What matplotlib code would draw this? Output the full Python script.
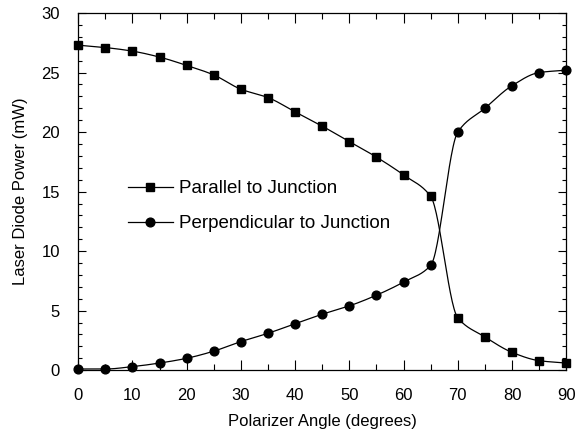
import numpy as np
import matplotlib
matplotlib.use("Agg")
import matplotlib.pyplot as plt
from matplotlib.lines import Line2D
from matplotlib.ticker import MultipleLocator

plt.rcParams['font.family'] = ['Liberation Sans', 'DejaVu Sans']

angle = [0, 5, 10, 15, 20, 25, 30, 35, 40, 45, 50, 55, 60, 65, 70, 75, 80, 85, 90]
parallel = [27.3, 27.1, 26.8, 26.3, 25.6, 24.8, 23.6, 22.9, 21.7, 20.5, 19.2,
            17.9, 16.4, 14.6, 4.4, 2.8, 1.5, 0.8, 0.6]
perpendicular = [0.1, 0.1, 0.3, 0.6, 1.0, 1.6, 2.4, 3.1, 3.9, 4.7, 5.4,
                 6.3, 7.4, 8.8, 20.0, 22.0, 23.9, 25.0, 25.2]


def pchip(x, y, n=30):
    # monotone cubic curve through the measured points (Fritsch-Carlson)
    x = np.asarray(x, float)
    y = np.asarray(y, float)
    h = np.diff(x)
    d = np.diff(y) / h
    m = np.zeros_like(y)
    m[0], m[-1] = d[0], d[-1]
    for i in range(1, len(x) - 1):
        if d[i - 1] * d[i] > 0:
            m[i] = 2.0 / (1.0 / d[i - 1] + 1.0 / d[i])
    xs, ys = [], []
    t = np.linspace(0, 1, n)
    for i in range(len(x) - 1):
        h00 = 2 * t ** 3 - 3 * t ** 2 + 1
        h10 = t ** 3 - 2 * t ** 2 + t
        h01 = -2 * t ** 3 + 3 * t ** 2
        h11 = t ** 3 - t ** 2
        xs.append(x[i] + t * h[i])
        ys.append(h00 * y[i] + h10 * h[i] * m[i] + h01 * y[i + 1] + h11 * h[i] * m[i + 1])
    return np.concatenate(xs), np.concatenate(ys)


fig = plt.figure(figsize=(5.79, 4.34), dpi=100)
ax = fig.add_axes([0.135, 0.147, 0.843, 0.823])

for vals, mk in ((parallel, 's'), (perpendicular, 'o')):
    sx, sy = pchip(angle, vals)
    ax.plot(sx, sy, color='black', lw=0.9, clip_on=False, zorder=2)
    ax.plot(angle, vals, linestyle='none', marker=mk, ms=6.3, color='black',
            clip_on=False, zorder=3)

ax.set_xlim(0, 90)
ax.set_ylim(0, 30)
ax.xaxis.set_major_locator(MultipleLocator(10))
ax.xaxis.set_minor_locator(MultipleLocator(5))
ax.yaxis.set_major_locator(MultipleLocator(5))
ax.yaxis.set_minor_locator(MultipleLocator(1))
ax.tick_params(which='both', direction='in', top=True, right=True,
               labelsize=12, width=0.8)
ax.tick_params(axis='x', which='major', length=7, pad=13)
ax.tick_params(axis='x', which='minor', length=4)
ax.tick_params(axis='y', which='major', length=6, pad=13)
ax.tick_params(axis='y', which='minor', length=3)
for s in ax.spines.values():
    s.set_linewidth(0.9)

ax.set_xlabel('Polarizer Angle (degrees)', fontsize=12, labelpad=8)
ax.set_ylabel('Laser Diode Power (mW)', fontsize=12, labelpad=10)

handles = [
    Line2D([], [], color='black', lw=0.9, marker='s', ms=6.3),
    Line2D([], [], color='black', lw=0.9, marker='o', ms=6.3),
]
ax.legend(handles, ['Parallel to Junction', 'Perpendicular to Junction'],
          loc='upper left', bbox_to_anchor=(0.102, 0.532), frameon=False,
          fontsize=13.5, handlelength=2.4, handletextpad=0.3,
          labelspacing=0.95, borderpad=0, borderaxespad=0)

fig.savefig('out.png', dpi=100)
